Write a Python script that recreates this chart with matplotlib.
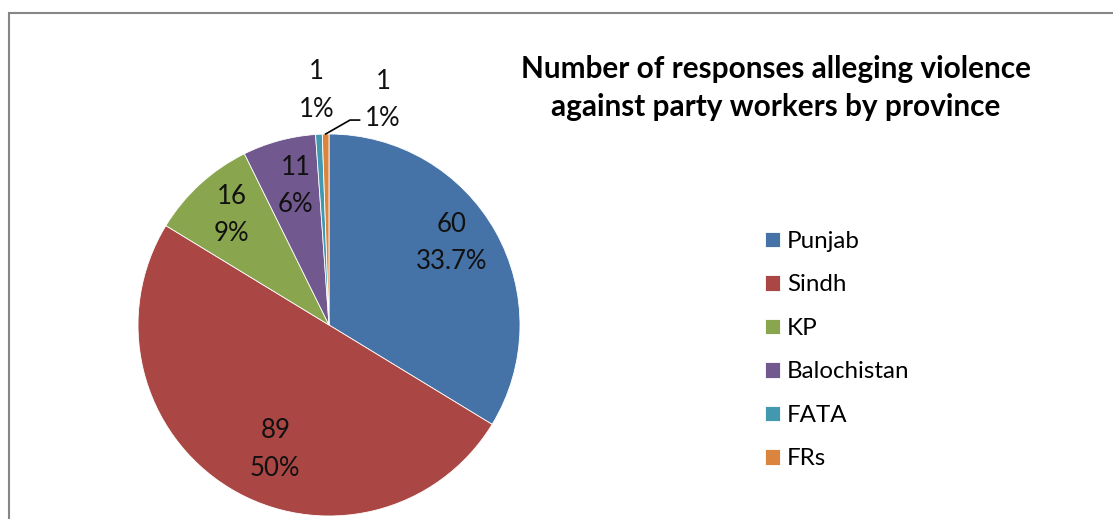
import numpy as np
import matplotlib.pyplot as plt
from matplotlib.patches import Rectangle

plt.rcParams['font.family'] = ['Lato', 'DejaVu Sans']

provinces = ['Punjab', 'Sindh', 'KP', 'Balochistan', 'FATA', 'FRs']
responses = [60, 89, 16, 11, 1, 1]
pct_labels = ['33.7%', '50%', '9%', '6%', '1%', '1%']
colors = ['#4572A7', '#AA4643', '#89A54E', '#71588F', '#4198AF', '#DB843D']

W, H = 1113, 519
fig = plt.figure(figsize=(W / 100, H / 100), dpi=100)

# pie centre (329, 325) px from top-left, radius 191 px
cx, cy, r = 329, 325, 191
ax = fig.add_axes([(cx - r) / W, (H - cy - r) / H, 2 * r / W, 2 * r / H])
wedges, _ = ax.pie(responses, colors=colors, startangle=90, counterclock=False,
                   radius=1, wedgeprops=dict(edgecolor='white', linewidth=0.6))
ax.set_xlim(-1, 1)
ax.set_ylim(-1, 1)
ax.set_aspect('equal')
ax.axis('off')

# label radius (fraction of pie radius) and small angle tweaks
label_r = [0.77, 0.71, 0.77, 0.75, 1.23, 1.21]
label_da = [4.5, 8.0, -1.0, -1.6, 0.0, -14.5]
for i, w in enumerate(wedges):
    mid = np.deg2rad((w.theta1 + w.theta2) / 2 + label_da[i])
    x, y = label_r[i] * np.cos(mid), label_r[i] * np.sin(mid)
    ax.text(x, y, f'{responses[i]}\n{pct_labels[i]}', ha='center', va='center',
            fontsize=18.5, linespacing=1.62, color='#111111', clip_on=False)

# leader line for FRs
w = wedges[5]
mid = np.deg2rad((w.theta1 + w.theta2) / 2)
p0 = (np.cos(mid), np.sin(mid))
ax.plot([p0[0], 0.11, 0.16], [p0[1], 1.073, 1.073], color='black', lw=1.2,
        clip_on=False)

fig.text(776 / W, 1 - 88 / H,
         'Number of responses alleging violence\nagainst party workers by province',
         ha='center', va='center', fontsize=21.4, fontweight='bold',
         linespacing=1.42, color='black')

leg = fig.legend(wedges, provinces, loc='upper left',
                 bbox_to_anchor=(765 / W, 1 - 231 / H), frameon=False,
                 fontsize=17.4, handlelength=0.62, handleheight=0.62,
                 handletextpad=0.3, labelspacing=0.93, borderpad=0,
                 borderaxespad=0)

fig.patches.append(Rectangle((9 / W, -0.1), 1.2, 1 - 13 / H + 0.1,
                             transform=fig.transFigure, fill=False,
                             edgecolor='#868686', lw=1.5))

fig.savefig('out.png', dpi=100)
